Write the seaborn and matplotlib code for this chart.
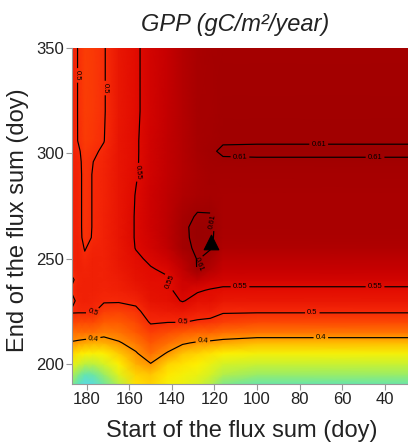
import numpy as np
import matplotlib
matplotlib.use("Agg")
import matplotlib.pyplot as plt
import seaborn as sns
import pandas as pd
from matplotlib.colors import LinearSegmentedColormap, Normalize

# ---- data -------------------------------------------------------------
starts = [187, 184, 181, 177, 172, 165, 157, 150, 142, 135, 128, 122, 116, 100, 29]
ends = [190, 195, 200, 205, 210, 215, 220, 225, 230, 235, 240, 245, 250, 255,
        260, 265, 270, 280, 290, 296, 301, 306, 320, 350]

# one list per start day (values along the ends above)
gpp_s187 = [0.22, 0.27, 0.32, 0.36, 0.395, 0.43, 0.475, 0.505, 0.49, 0.505, 0.495, 0.51, 0.515, 0.515, 0.515, 0.515, 0.515, 0.515, 0.515, 0.515, 0.515, 0.515, 0.52, 0.52]
gpp_s184 = [0.17, 0.23, 0.30, 0.345, 0.39, 0.43, 0.47, 0.505, 0.51, 0.515, 0.51, 0.515, 0.515, 0.515, 0.512, 0.51, 0.51, 0.51, 0.51, 0.508, 0.505, 0.498, 0.497, 0.497]
gpp_s181 = [0.12, 0.19, 0.28, 0.34, 0.385, 0.43, 0.47, 0.505, 0.515, 0.515, 0.515, 0.51, 0.505, 0.498, 0.49, 0.49, 0.49, 0.49, 0.49, 0.49, 0.487, 0.483, 0.48, 0.48]
gpp_s177 = [0.13, 0.20, 0.28, 0.335, 0.38, 0.43, 0.47, 0.505, 0.51, 0.515, 0.515, 0.515, 0.515, 0.51, 0.503, 0.502, 0.502, 0.502, 0.502, 0.50, 0.495, 0.488, 0.485, 0.485]
gpp_s172 = [0.20, 0.25, 0.30, 0.34, 0.38, 0.415, 0.45, 0.48, 0.505, 0.51, 0.512, 0.512, 0.512, 0.512, 0.512, 0.512, 0.512, 0.51, 0.51, 0.508, 0.505, 0.499, 0.497, 0.497]
gpp_s165 = [0.27, 0.31, 0.34, 0.365, 0.395, 0.425, 0.45, 0.475, 0.505, 0.515, 0.52, 0.525, 0.53, 0.53, 0.532, 0.532, 0.532, 0.532, 0.532, 0.532, 0.532, 0.532, 0.53, 0.53]
gpp_s157 = [0.35, 0.36, 0.38, 0.395, 0.42, 0.45, 0.47, 0.49, 0.51, 0.525, 0.535, 0.54, 0.545, 0.551, 0.552, 0.552, 0.552, 0.551, 0.548, 0.547, 0.547, 0.547, 0.546, 0.546]
gpp_s150 = [0.36, 0.37, 0.398, 0.43, 0.455, 0.48, 0.505, 0.52, 0.535, 0.54, 0.545, 0.548, 0.555, 0.56, 0.563, 0.565, 0.565, 0.565, 0.563, 0.563, 0.562, 0.562, 0.56, 0.56]
gpp_s142 = [0.33, 0.345, 0.36, 0.395, 0.43, 0.465, 0.502, 0.525, 0.54, 0.545, 0.547, 0.555, 0.565, 0.575, 0.58, 0.58, 0.58, 0.578, 0.575, 0.575, 0.575, 0.575, 0.573, 0.572]
gpp_s135 = [0.32, 0.33, 0.35, 0.37, 0.405, 0.45, 0.502, 0.53, 0.552, 0.56, 0.565, 0.575, 0.585, 0.605, 0.605, 0.605, 0.60, 0.59, 0.585, 0.585, 0.585, 0.585, 0.585, 0.585]
gpp_s128 = [0.30, 0.32, 0.34, 0.36, 0.395, 0.44, 0.495, 0.52, 0.54, 0.553, 0.575, 0.612, 0.612, 0.613, 0.616, 0.617, 0.613, 0.598, 0.595, 0.597, 0.60, 0.60, 0.60, 0.598]
gpp_s122 = [0.27, 0.30, 0.32, 0.35, 0.39, 0.44, 0.49, 0.52, 0.54, 0.548, 0.565, 0.585, 0.60, 0.612, 0.615, 0.615, 0.612, 0.60, 0.602, 0.605, 0.607, 0.605, 0.603, 0.602]
gpp_s116 = [0.22, 0.27, 0.30, 0.34, 0.385, 0.43, 0.48, 0.505, 0.53, 0.545, 0.56, 0.57, 0.58, 0.59, 0.595, 0.598, 0.597, 0.598, 0.603, 0.607, 0.613, 0.608, 0.606, 0.605]
gpp_s100 = [0.19, 0.25, 0.29, 0.33, 0.375, 0.425, 0.47, 0.505, 0.53, 0.545, 0.56, 0.57, 0.58, 0.59, 0.595, 0.598, 0.597, 0.598, 0.603, 0.607, 0.614, 0.608, 0.606, 0.605]
gpp_s029 = [0.19, 0.25, 0.29, 0.33, 0.375, 0.425, 0.47, 0.505, 0.53, 0.545, 0.56, 0.57, 0.58, 0.59, 0.595, 0.598, 0.597, 0.598, 0.603, 0.607, 0.614, 0.608, 0.606, 0.605]

contour_levels = [0.4, 0.5, 0.55, 0.61]
optimum_start = [121.5]
optimum_end = [258]

x_ticks = [180, 160, 140, 120, 100, 80, 60, 40]
y_ticks = [200, 250, 300, 350]

title = "GPP (gC/m²/year)"
x_label = "Start of the flux sum (doy)"
y_label = "End of the flux sum (doy)"

# ---- style --------------------------------------------------------------
sns.set_style("ticks")
plt.rcParams["font.family"] = ["Liberation Sans", "DejaVu Sans"]

cmap_nodes = [
    (0.10, "#5cd6f2"), (0.17, "#55e2c8"), (0.24, "#8eec74"), (0.30, "#d6f224"),
    (0.34, "#fff000"), (0.37, "#ffc400"), (0.40, "#ff8c00"), (0.45, "#ff5a00"),
    (0.50, "#f82a08"), (0.55, "#e00a00"), (0.57, "#c80000"), (0.59, "#b00000"),
    (0.61, "#a00000"), (0.63, "#900000"),
]
vmin, vmax = cmap_nodes[0][0], cmap_nodes[-1][0]
cmap = LinearSegmentedColormap.from_list(
    "gpp", [((v - vmin) / (vmax - vmin), c) for v, c in cmap_nodes])

grid = np.column_stack([gpp_s187, gpp_s184, gpp_s181, gpp_s177, gpp_s172, gpp_s165,
                        gpp_s157, gpp_s150, gpp_s142, gpp_s135, gpp_s128, gpp_s122,
                        gpp_s116, gpp_s100, gpp_s029])
X, Y = np.meshgrid(starts, ends)

fig = plt.figure(figsize=(4.08, 4.48), dpi=100)
ax = fig.add_axes([72 / 408, 64 / 448, 336 / 408, 336 / 448])

ax.pcolormesh(X, Y, grid, cmap=cmap, norm=Normalize(vmin, vmax),
              shading="gouraud", rasterized=True)
cs = ax.contour(X, Y, grid, levels=contour_levels, colors="black", linewidths=0.85)

# approximate places of the contour labels in the reference
label_spots = [(184.6, 337), (172, 331), (156, 291), (71, 303), (108, 299.2),
               (44.5, 299.2), (108, 236), (44.5, 236), (74, 223), (70, 213),
               (177, 212), (177, 224), (135, 220), (125.5, 211), (137.5, 240),
               (120.7, 267.5), (123.5, 247)]
ax.clabel(cs, fmt="%g", fontsize=5.5, inline=True, inline_spacing=2,
          manual=label_spots)

tri = pd.DataFrame({"start": optimum_start, "end": optimum_end})
sns.scatterplot(data=tri, x="start", y="end", marker="^", s=110, color="black",
                edgecolor="black", ax=ax, legend=False, zorder=5)

ax.set_xlim(187, 29)
ax.set_ylim(190.5, 350)
ax.set_xticks(x_ticks)
ax.set_yticks(y_ticks)
ax.set_xlabel("")
ax.set_ylabel("")
for side in ["top", "right"]:
    ax.spines[side].set_visible(False)
for side in ["left", "bottom"]:
    ax.spines[side].set_color("#999999")
    ax.spines[side].set_linewidth(0.8)
ax.tick_params(axis="both", labelsize=12, colors="#999999", labelcolor="#222222",
               length=4, width=0.8, pad=2)

fig.text(235 / 408, 1 - 25 / 448, title, fontsize=17, style="italic",
         ha="center", va="center", color="#222222")
fig.text(242 / 408, 1 - 431 / 448, x_label, fontsize=17, ha="center",
         va="center", color="#222222")
fig.text(18 / 408, 1 - 220 / 448, y_label, fontsize=17, ha="center",
         va="center", rotation=90, color="#222222")

fig.savefig("out.png", dpi=100)
